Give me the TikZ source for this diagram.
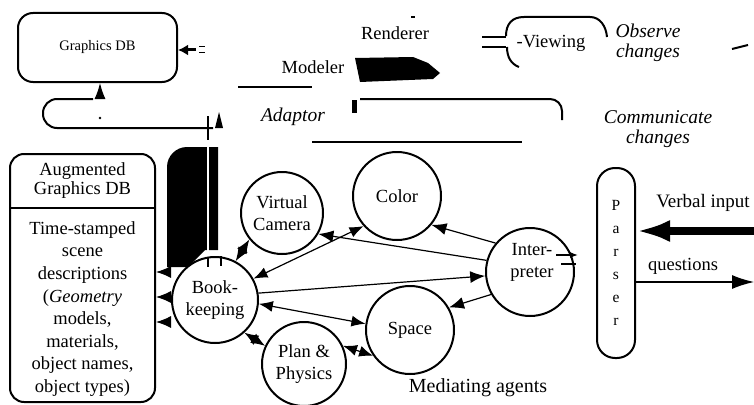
\documentclass[tikz,border=0pt]{standalone}
\usepackage{fontspec}
\setmainfont{Liberation Serif}
\usetikzlibrary{arrows.meta}
\begin{document}
\begin{tikzpicture}[x=1pt,y=-1pt,
  lbl/.style={font=\fontsize{18.5}{22}\selectfont, align=center, inner sep=0pt},
  itlbl/.style={font=\fontsize{19.5}{20}\selectfont\itshape, align=center, inner sep=0pt},
  circ/.style={draw, circle, line width=2pt, inner sep=0pt, align=center, font=\fontsize{18.5}{22}\selectfont},
  boxed/.style={draw, line width=2pt, inner sep=0pt, align=center},
  conn/.style={line width=1.2pt, -{Latex[length=15pt,width=12pt]}},
  biconn/.style={line width=1.2pt, {Latex[length=14pt,width=11pt]}-{Latex[length=14pt,width=11pt]}}
]
\fill[white] (0,0) rectangle (754,404);
\useasboundingbox (0,0) rectangle (754,404);

% Graphics DB
\node[boxed, rounded corners=15pt, minimum width=159pt, minimum height=69pt, font=\fontsize{14.5}{16}\selectfont] (gdb) at (97.5,47.5) {Graphics DB};
\coordinate (gdbin) at (196,50);
\draw[line width=3pt, -{Latex[length=10pt,width=11pt]}] (gdbin) -- (gdbin -| gdb.east);
\draw[line width=1pt] (199,47) -- (205,47) (199,53) -- (205,53);
\coordinate (gdbup) at (100,98);
\draw[line width=1.2pt, -{Latex[length=16pt,width=11pt]}] (gdbup) -- (gdbup |- gdb.south);

% return loop under Graphics DB
\draw[line width=2pt, rounded corners=14pt] (93,99) -- (43,99) -- (43,128) -- (213,128);
\fill (100,118) circle (1.3pt);
\draw[line width=1.2pt] (208,116) -- (208,140);
\fill (219,112) -- (223,128) -- (215,128) -- cycle;

% black block
\fill (167,267) -- (167,167) .. controls (167,156) and (176,147) .. (187,147) -- (218,147) -- (218,250) -- (205,250) -- (188,267) -- cycle;
\draw[white, line width=2pt] (208,147) -- (208,260);
\draw[line width=1.2pt] (208,257) -- (208,267) (221,256) -- (221,266);

% Modeler / Renderer / Adaptor
\node[lbl] (modeler) at (313,67) {Modeler};
\draw[line width=1.5pt] (238,87) -- (312,87);
\fill (355,58) -- (413,57) -- (428,63) -- (440,73) -- (433,79) -- (360,82) -- cycle;
\node[lbl] (renderer) at (395,33) {Renderer};
\draw[line width=1.5pt] (411,17) -- (415,17);
\node[itlbl] (adaptor) at (293,117) {Adaptor};
\fill (352,100) rectangle (357,113);
\draw[line width=2pt, rounded corners=12pt] (360,99) -- (562,99) -- (562,120);
\draw[line width=2.5pt] (312,142) -- (522,142);

% Viewing
\draw[line width=2pt] (506,36) .. controls (506,24) and (512,17) .. (524,17) -- (590,17) .. controls (600,17) and (606,26) .. (607,37);
\draw[line width=2pt] (507,47) .. controls (507,57) and (511,64) .. (519,67);
\draw[line width=2.5pt] (482,37) -- (506,37) (482,47) -- (506,47);
\node[lbl] (viewing) at (551,43) {-Viewing};
\node[itlbl] (observe) at (648,43) {Observe\\changes};
\draw[line width=2pt] (732,49) -- (748,45);
\node[itlbl] (communicate) at (658,129) {Communicate\\changes};

% Parser
\node[boxed, rounded corners=18pt, minimum width=38pt, minimum height=190pt, font=\fontsize{15.5}{23}\selectfont] (parser) at (616,263) {P\\a\\r\\s\\e\\r};
\node[lbl, font=\fontsize{19}{22}\selectfont] (verbal) at (703,203) {Verbal input};
\coordinate (vin) at (754,231);
\draw[line width=8pt, -{Latex[length=34pt,width=22pt]}] (vin) -- (vin -| parser.east);
\node[lbl] (questions) at (683,266) {questions};
\coordinate (qout) at (754,282);
\draw[line width=1.2pt, -{Latex[length=22pt,width=14pt]}] (qout -| parser.east) -- (qout);

% Augmented Graphics DB
\node[boxed, rounded corners=14pt, minimum width=145pt, minimum height=248pt] (aug) at (82.5,278) {};
\coordinate (divy) at (0,208);
\draw[line width=1.5pt] (aug.west |- divy) -- (aug.east |- divy);
\node[lbl, font=\fontsize{18.5}{19}\selectfont] (augH) at (82.5,181) {Augmented\\Graphics DB};
\node[lbl, font=\fontsize{18.5}{22.6}\selectfont] (augB) at (82.5,309) {Time-stamped\\scene\\descriptions\\(\textit{Geometry}\\models,\\materials,\\object names,\\object types)};

% agents
\node[circ, minimum size=82pt] (vcam) at (282,213) {Virtual\\Camera};
\node[circ, minimum size=88pt] (color) at (397,196) {Color};
\node[circ, minimum size=88pt] (interp) at (530,272) {};
\node[lbl] (interpT) at (532,262) {Inter-\\preter};
\node[circ, minimum size=86pt] (book) at (215,300) {Book-\\keeping};
\node[circ, minimum size=88pt] (space) at (410,330) {Space};
\node[circ, minimum size=84pt] (plan) at (304,364) {Plan \&\\Physics};
\node[lbl, font=\fontsize{20}{22}\selectfont] (mediating) at (478,388) {Mediating agents};

\draw[line width=1.2pt, -{Latex[length=8pt,width=6pt]}] (556,255) -- (578,255);
\draw[line width=1.2pt] (561,264) -- (576,264);

\draw[biconn] (book.62) -- (vcam.-141);
\draw[biconn] (book.29) -- (color.222);
\draw[conn] (interp.165) -- (vcam.-30);
\draw[conn] (interp.140) -- (color.-40);
\draw[conn] (book.9) -- (interp.185);
\draw[biconn] (book.-5) -- (space.172);
\draw[conn] (interp.-150) -- (space.30);
\draw[biconn] (space.-145) -- (plan.25);
\draw[biconn] (book.-48) -- (plan.155);

\coordinate (a1) at (165,272);
\coordinate (a2) at (165,297);
\coordinate (a3) at (165,322);
\draw[conn] (a1) -- (a1 -| aug.east);
\draw[conn] (a2) -- (a2 -| aug.east);
\draw[conn] (a3) -- (a3 -| aug.east);
\end{tikzpicture}
\end{document}
